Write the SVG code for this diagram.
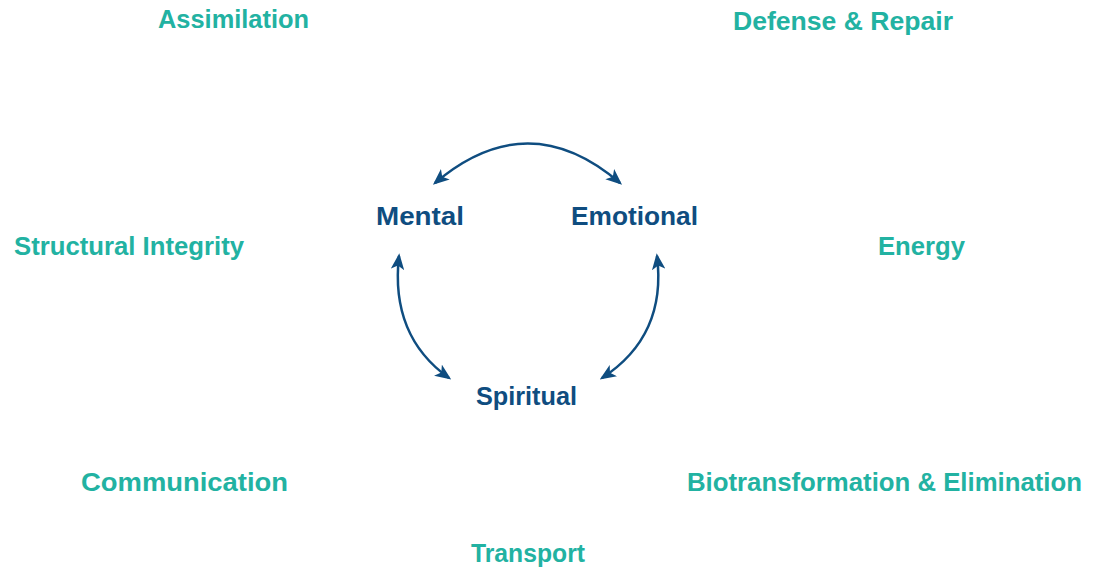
<svg xmlns="http://www.w3.org/2000/svg" width="1101" height="571" viewBox="0 0 1101 571">
<defs>
<style>
.outer{font-family:"Liberation Sans",Arial,sans-serif;font-weight:bold;font-size:25px;fill:#22b2a2;}
.inner{font-family:"Liberation Sans",Arial,sans-serif;font-weight:bold;font-size:25px;fill:#0f4d80;}
.arc{fill:none;stroke:#0f4d80;stroke-width:2.5;marker-start:url(#ah);marker-end:url(#ah);}
</style>
<marker id="ah" viewBox="0 0 12 10" refX="10" refY="5" markerWidth="6.5" markerHeight="5.5" orient="auto-start-reverse" markerUnits="strokeWidth">
<path d="M0,0 L12,5 L0,10 L3,5 Z" fill="#0f4d80"/>
</marker>
</defs>
<rect width="1101" height="571" fill="#ffffff"/>
<g id="connectors">
<path class="arc" d="M435,183 Q528,104 620,183"/>
<path class="arc" d="M399,256 Q390,336 449,378"/>
<path class="arc" d="M657,256 Q667,336 602,378"/>
</g>
<g id="node-assimilation"><text class="outer" x="158" y="28" textLength="151" lengthAdjust="spacingAndGlyphs">Assimilation</text></g>
<g id="node-defense"><text class="outer" x="733" y="30" textLength="220" lengthAdjust="spacingAndGlyphs">Defense &amp; Repair</text></g>
<g id="node-structural"><text class="outer" x="14" y="255" textLength="230" lengthAdjust="spacingAndGlyphs">Structural Integrity</text></g>
<g id="node-energy"><text class="outer" x="878" y="255" textLength="87" lengthAdjust="spacingAndGlyphs">Energy</text></g>
<g id="node-communication"><text class="outer" x="81" y="491" textLength="207" lengthAdjust="spacingAndGlyphs">Communication</text></g>
<g id="node-biotransformation"><text class="outer" x="687" y="491" textLength="395" lengthAdjust="spacingAndGlyphs">Biotransformation &amp; Elimination</text></g>
<g id="node-transport"><text class="outer" x="471" y="562" textLength="114" lengthAdjust="spacingAndGlyphs">Transport</text></g>
<g id="node-mental"><text class="inner" x="376" y="225" textLength="88" lengthAdjust="spacingAndGlyphs">Mental</text></g>
<g id="node-emotional"><text class="inner" x="571" y="225" textLength="127" lengthAdjust="spacingAndGlyphs">Emotional</text></g>
<g id="node-spiritual"><text class="inner" x="476" y="405" textLength="101" lengthAdjust="spacingAndGlyphs">Spiritual</text></g>
</svg>
